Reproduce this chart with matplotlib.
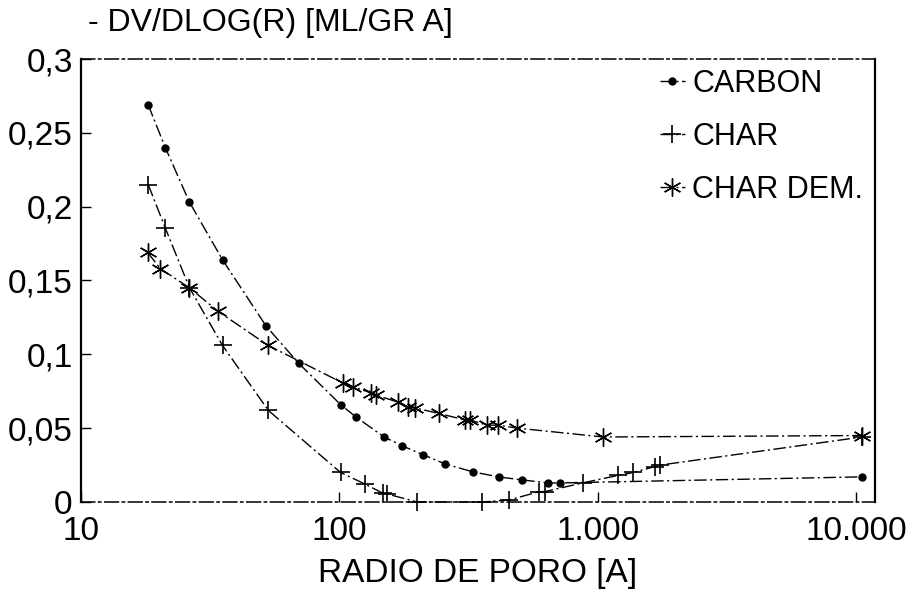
import matplotlib.pyplot as plt
import numpy as np
from matplotlib.ticker import FixedLocator, NullLocator

plt.rcParams['font.family'] = ['Liberation Sans', 'DejaVu Sans']

# pore radius [A] and -dV/dlog(r) [ml/g A] for each sample
carbon_r = [18.2, 21.2, 26.3, 35.3, 52.1, 69.5, 101, 116, 149, 175, 211, 257,
            330, 416, 511, 643, 716, 10500]
carbon_v = [0.269, 0.240, 0.203, 0.164, 0.119, 0.094, 0.066, 0.0575, 0.044,
            0.038, 0.032, 0.0257, 0.0203, 0.0169, 0.0149, 0.0129, 0.0129, 0.017]

char_r = [18.2, 21.2, 26.3, 35.3, 53.1, 101, 126, 147, 153, 200, 357, 455,
          594, 623, 879, 1200, 1374, 1667, 1746, 10550]
char_v = [0.215, 0.1855, 0.145, 0.106, 0.062, 0.020, 0.012, 0.006, 0.0054,
          0.0, 0.0, 0.0014, 0.007, 0.007, 0.013, 0.018, 0.020, 0.024, 0.025,
          0.044]

dem_r = [18.1, 20.3, 26.3, 34, 53, 103, 113, 132, 138, 168, 185, 197, 242,
         307, 321, 373, 412, 488, 1050, 10550]
dem_v = [0.169, 0.158, 0.145, 0.129, 0.106, 0.0806, 0.078, 0.074, 0.0725,
         0.0677, 0.064, 0.0636, 0.060, 0.0555, 0.0555, 0.052, 0.052, 0.050,
         0.044, 0.045]

x_ticks = [10, 100, 1000, 10000]
x_labels = ['10', '100', '1.000', '10.000']
y_ticks = [0, 0.05, 0.1, 0.15, 0.2, 0.25, 0.3]
y_labels = ['0', '0,05', '0,1', '0,15', '0,2', '0,25', '0,3']

fig = plt.figure(figsize=(9.16, 5.99), dpi=100)
ax = fig.add_axes([0.0884, 0.162, 0.8666, 0.7395])

dash = (0, (9, 2.5, 1.5, 2.5))
ax.plot(carbon_r, carbon_v, color='black', lw=1.0, ls=dash,
        marker='o', ms=5, label='CARBON', clip_on=False)
ax.plot(char_r, char_v, color='black', lw=1.0, ls=dash,
        marker='+', ms=13, mew=1.2, label='CHAR', clip_on=False)
ax.plot(dem_r, dem_v, color='black', lw=1.0, ls=dash,
        marker=(6, 2, 0), ms=13, mew=1.0, label='CHAR DEM.', clip_on=False)

ax.set_xscale('log')
ax.set_xlim(10, 11800)
ax.set_ylim(0, 0.3)
ax.xaxis.set_major_locator(FixedLocator(x_ticks))
ax.xaxis.set_minor_locator(NullLocator())
ax.set_xticklabels(x_labels)
ax.set_yticks(y_ticks)
ax.set_yticklabels(y_labels)
ax.tick_params(axis='both', direction='in', length=7, width=1.0,
               labelsize=24, color='black')
ax.tick_params(axis='x', pad=10)
ax.tick_params(axis='y', pad=6)

for side in ('left', 'right'):
    ax.spines[side].set_linewidth(1.6)
for side in ('top', 'bottom'):
    ax.spines[side].set_linewidth(1.1)
    ax.spines[side].set_linestyle(dash)

ax.set_xlabel('RADIO DE PORO [A]', fontsize=24, labelpad=8)
fig.text(0.096, 0.962, '- DV/DLOG(R) [ML/GR A]', fontsize=23, va='center')

ax.legend(loc='upper left', bbox_to_anchor=(0.695, 1.04), frameon=False,
          fontsize=22, handlelength=0.8, handletextpad=0.25,
          labelspacing=0.75)

fig.savefig('out.png', dpi=100)
